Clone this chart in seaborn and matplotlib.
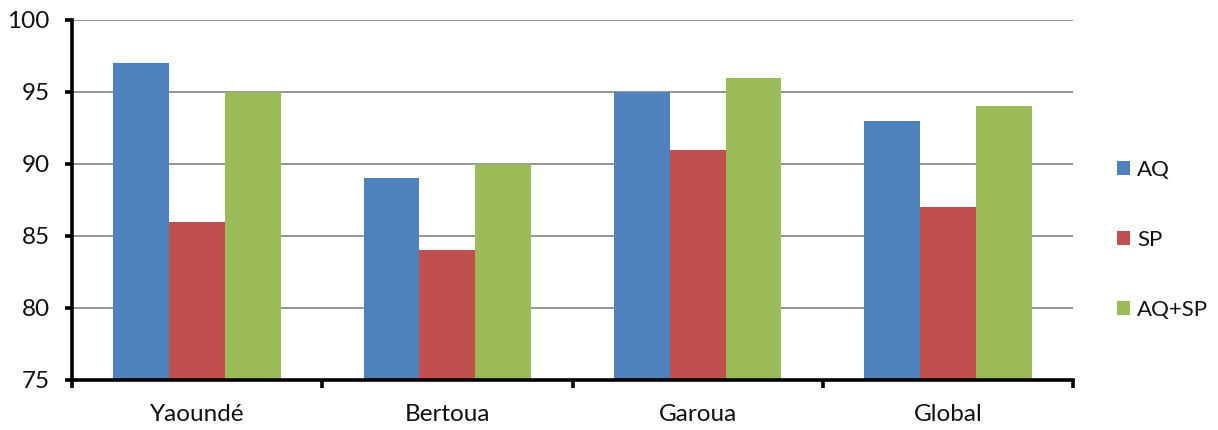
import matplotlib
matplotlib.use("Agg")
import matplotlib.pyplot as plt
from matplotlib.patches import Patch
import seaborn as sns
import pandas as pd
import numpy as np

# Data
sites = ["Yaoundé", "Bertoua", "Garoua", "Global"]
series = ["AQ", "SP", "AQ+SP"]
aq = [97, 89, 95, 93]
sp = [86, 84, 91, 87]
aq_sp = [95, 90, 96, 94]
colors = ["#4F81BD", "#C0504D", "#9BBB59"]

df = pd.DataFrame({
    "site": sites * 3,
    "group": [s for s in series for _ in sites],
    "value": aq + sp + aq_sp,
})

sns.set_theme(style="white")
plt.rcParams["font.family"] = ["Lato", "DejaVu Sans"]

fig = plt.figure(figsize=(12.18, 4.30), dpi=100)
ax = fig.add_axes([72 / 1218, 50 / 430, 1001 / 1218, 360 / 430])

sns.barplot(data=df, x="site", y="value", hue="group", order=sites,
            hue_order=series, palette=colors, width=0.67, saturation=1,
            edgecolor="none", ax=ax, legend=False)

ax.set_ylim(75, 100)
ax.set_xlim(-0.5, 3.5)
ax.set_yticks([75, 80, 85, 90, 95, 100])
ax.set_xlabel("")
ax.set_ylabel("")

# gridlines
ax.set_axisbelow(True)
ax.yaxis.grid(True, color="#8c8c8c", linewidth=1.3)
ax.xaxis.grid(False)

for s in ["top", "right"]:
    ax.spines[s].set_visible(False)
for s in ["left", "bottom"]:
    ax.spines[s].set_color("black")
    ax.spines[s].set_linewidth(2.6)

ax.tick_params(axis="y", which="major", direction="out", length=5, width=2.6,
               color="black", labelsize=17.5, pad=11, left=True,
               labelcolor="#111111")
ax.tick_params(axis="x", which="major", length=0, labelsize=17.5, pad=17,
               labelcolor="#111111")
ax.set_xticks(np.arange(-0.5, 4.0, 1.0), minor=True)
ax.tick_params(axis="x", which="minor", direction="out", length=6, width=2.6,
               color="black", bottom=True)

handles = [Patch(facecolor=c, edgecolor="none") for c in colors]
leg = fig.legend(handles, series, loc="center left",
                 bbox_to_anchor=(1117 / 1218, 190 / 430), frameon=False,
                 fontsize=16, handlelength=0.6, handleheight=0.6,
                 handletextpad=0.3, labelspacing=2.25, borderpad=0,
                 borderaxespad=0)
for t in leg.get_texts():
    t.set_color("#111111")

fig.savefig("out.png", dpi=100)
